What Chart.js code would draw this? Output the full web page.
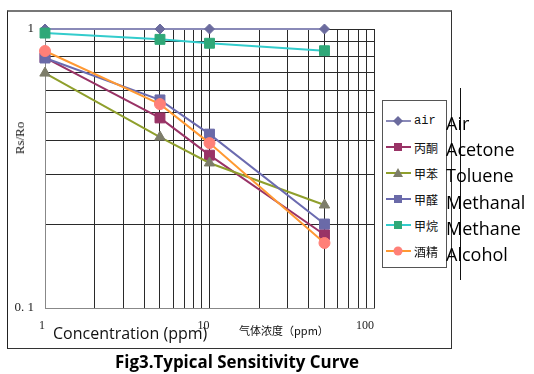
<!DOCTYPE html>
<html>
<head>
<meta charset="utf-8">
<script src="https://cdn.jsdelivr.net/npm/chart.js@4/dist/chart.umd.min.js"></script>
<style>
  body { margin: 0; background: #fff; }
  #wrap { position: relative; width: 534px; height: 374px; overflow: hidden; }
  #frame { position: absolute; left: 7px; top: 10px; width: 443px; height: 336px;
           border-top: 2px solid #777; border-left: 1px solid #222; border-right: 1px solid #333; border-bottom: 1px solid #333; }
  #myChart { position: absolute; left: 0; top: 0; }
  #vline { position: absolute; left: 460px; top: 88px; width: 1px; height: 192px; background: #111; }
  #legend { position: absolute; left: 382px; top: 100px; width: 63px; height: 166px; border: 1px solid #555; background: #fff; }
  .row { position: absolute; left: 2px; height: 14px; display: flex; align-items: center;
         font: 12px "Noto Sans CJK SC"; color: #111; white-space: nowrap; }
  .row svg { margin-right: 2px; }
  #eng { position: absolute; left: 446px; top: 110px; font: 18px "Open Sans"; line-height: 26.2px; color: #000; }
  .txt { position: absolute; white-space: nowrap; color: #111; }
</style>
</head>
<body>
<div id="wrap">
  <div id="frame"></div>
  <canvas id="myChart" width="534" height="374"></canvas>
  <div id="legend"></div>
  <div id="vline"></div>
  <div id="eng"></div>
  <div class="txt" style="top:138px;font:13px 'Liberation Serif';transform:translate(-50%,-50%) rotate(-90deg);transform-origin:center;left:20px;">Rs/Ro</div>
  <div class="txt" style="left:53px;top:325px;font:16px 'Open Sans';line-height:16px;">Concentration (ppm)</div>
  <div class="txt" style="left:239px;top:323px;font:11px 'Noto Sans CJK SC';line-height:14px;">气体浓度（ppm）</div>
  <div class="txt" id="title" style="left:115px;top:352px;font:bold 18px 'Open Sans';line-height:18px;color:#000;transform-origin:left center;">Fig3.Typical Sensitivity Curve</div>
</div>
<script>
// gas concentration (ppm)
var concentration = [1, 5, 10, 50];

var airValues      = [1.00, 1.00, 1.00, 1.00];
var acetoneValues  = [0.79, 0.48, 0.353, 0.183];
var tolueneValues  = [0.695, 0.41, 0.331, 0.234];
var methanalValues = [0.787, 0.557, 0.42, 0.20];
var methaneValues  = [0.967, 0.918, 0.889, 0.836];
var alcoholValues  = [0.834, 0.538, 0.39, 0.171];

var seriesNames = ['air', '丙酮', '甲苯', '甲醛', '甲烷', '酒精'];
var englishNames = ['Air', 'Acetone', 'Toluene', 'Methanal', 'Methane', 'Alcohol'];

// grid lines and labels
var xGridValues = [1, 2, 3, 4, 5, 6, 7, 8, 9, 10, 20, 30, 40, 50, 60, 70, 80, 90, 100];
var yGridValues = [0.1, 0.2, 0.3, 0.4, 0.5, 0.6, 0.7, 0.8, 0.9, 1];
var xTickValues = [1, 10, 100];
var xTickLabels = ['1', '10', '100'];
var yTickValues = [0.1, 1];
var yTickLabels = ['0. 1', '1'];

var styles = [
    {line: '#8a8ab8', fill: '#6b6b9e', shape: 'rectRot', r: 5},
    {line: '#993366', fill: '#993366', shape: 'rect', r: 7},
    {line: '#8f9f2c', fill: '#7d7d6a', shape: 'triangle', r: 6},
    {line: '#6b6bb0', fill: '#6a6aa8', shape: 'rect', r: 7},
    {line: '#33cccc', fill: '#2fa878', shape: 'rect', r: 7},
    {line: '#ff9933', fill: '#ff8078', shape: 'circle', r: 5.5}
];

var allValues = [airValues, acetoneValues, tolueneValues, methanalValues, methaneValues, alcoholValues];

function toPoints(vals) {
    return vals.map(function (v, i) { return {x: concentration[i], y: v}; });
}

var datasets = allValues.map(function (vals, i) {
    var s = styles[i];
    return {
        label: seriesNames[i],
        data: toPoints(vals),
        borderColor: s.line,
        backgroundColor: s.fill,
        borderWidth: 2,
        pointStyle: s.shape,
        pointRadius: s.r,
        pointBackgroundColor: s.fill,
        pointBorderColor: s.fill,
        pointBorderWidth: 1,
        tension: 0,
        clip: false,
        order: 6 - i
    };
});

let ctx = document.getElementById("myChart").getContext("2d");
let chart = new Chart(ctx, {
    type: 'line',
    data: {datasets: datasets},
    options: {
        responsive: false,
        animation: false,
        layout: {padding: {top: 29, right: 160, left: 0, bottom: 0}},
        plugins: {legend: {display: false}, tooltip: {enabled: false}},
        scales: {
            x: {
                type: 'logarithmic',
                min: 1,
                max: 100,
                afterBuildTicks: function (s) { s.ticks = xGridValues.map(function (v) { return {value: v}; }); },
                afterFit: function (s) { s.height = 66; },
                grid: {color: '#2a2a2a', lineWidth: 1, drawTicks: false},
                border: {color: '#888', width: 1},
                ticks: {
                    autoSkip: false, maxRotation: 0, align: 'end', padding: 11, color: '#222',
                    font: {family: 'Liberation Serif', size: 12},
                    callback: function (v) {
                        var k = xTickValues.indexOf(v);
                        return k >= 0 ? xTickLabels[k] : '';
                    }
                }
            },
            y: {
                type: 'logarithmic',
                min: 0.1,
                max: 1,
                afterBuildTicks: function (s) { s.ticks = yGridValues.map(function (v) { return {value: v}; }); },
                afterFit: function (s) { s.width = 45; },
                grid: {color: '#2a2a2a', lineWidth: 1, drawTicks: false},
                border: {color: '#888', width: 1},
                ticks: {
                    autoSkip: false, padding: 11, color: '#222',
                    font: {family: 'Liberation Serif', size: 13},
                    callback: function (v) {
                        var k = yTickValues.indexOf(v);
                        return k >= 0 ? yTickLabels[k] : '';
                    }
                }
            }
        }
    }
});

// legend box
function markerSvg(s) {
    var m = '';
    if (s.shape === 'rectRot') m = '<polygon points="13,1 18,6 13,11 8,6" fill="' + s.fill + '"/>';
    else if (s.shape === 'rect') m = '<rect x="9" y="2" width="8" height="8" fill="' + s.fill + '"/>';
    else if (s.shape === 'triangle') m = '<polygon points="13,1 18,10 8,10" fill="' + s.fill + '"/>';
    else m = '<circle cx="13" cy="6" r="4.5" fill="' + s.fill + '"/>';
    return '<svg width="27" height="12"><line x1="1" y1="6" x2="26" y2="6" stroke="' + s.line + '" stroke-width="2"/>' + m + '</svg>';
}
var legend = document.getElementById('legend');
seriesNames.forEach(function (name, i) {
    var row = document.createElement('div');
    row.className = 'row';
    row.style.top = (13 + i * 26) + 'px';
    var label = name === 'air' ? '<span style="font:12px \'Liberation Mono\'">air</span>' : name;
    row.innerHTML = markerSvg(styles[i]) + label;
    legend.appendChild(row);
});
document.getElementById('eng').innerHTML = englishNames.join('<br>');

var title = document.getElementById('title');
var w = title.getBoundingClientRect().width;
title.style.transform = 'scaleX(' + (244 / w) + ')';
</script>
</body>
</html>
